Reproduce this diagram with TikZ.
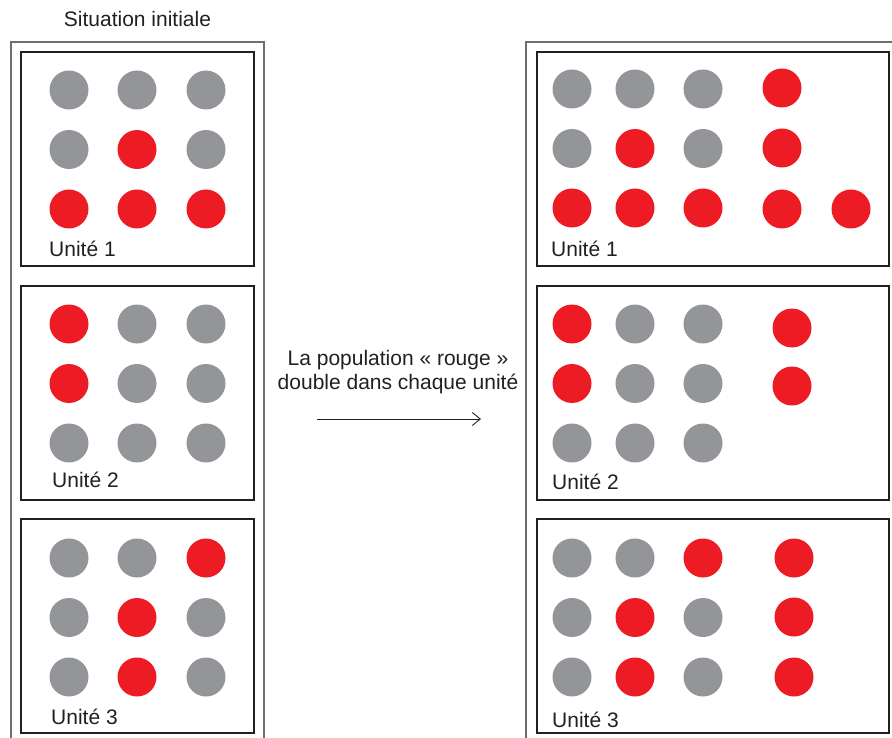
\documentclass[tikz,border=0pt]{standalone}
\usepackage{fontspec}
\setmainfont{Liberation Sans}
\usetikzlibrary{arrows.meta}
\definecolor{pointgris}{HTML}{939598}
\definecolor{pointrouge}{HTML}{ED1C24}
\definecolor{cadregris}{HTML}{6D6E71}
\definecolor{encre}{HTML}{231F20}

\begin{document}
\begin{tikzpicture}[
  x=1pt,
  y=-1pt,
  cadre/.style={
    draw=cadregris,
    line width=1.3pt
  },
  unite/.style={
    draw=encre,
    line width=1.1pt
  },
  gris/.style={
    circle,
    fill=pointgris,
    minimum size=39pt,
    inner sep=0pt
  },
  rouge/.style={
    circle,
    fill=pointrouge,
    minimum size=39pt,
    inner sep=0pt
  },
  legende/.style={
    text=encre,
    font=\fontsize{21}{24}\selectfont,
    inner sep=0pt
  },
  >={Straight Barb[length=8pt,width=13pt]}
]

\useasboundingbox (0,0) rectangle (892,738);

% Cadres
\draw[cadre] (11,738) -- (11,42) -- (264,42) -- (264,738);
\draw[cadre] (892,42) -- (526,42) -- (526,738);

% Unites
\foreach \yh in {52,286,519} {
  \draw[unite] (21,\yh) rectangle (254,\yh+214);
  \draw[unite] (537,\yh) rectangle (889,\yh+214);
}

% Titre
\node[legende, anchor=base] (titre) at (137.5,27) {Situation initiale};

% Points, situation initiale
\foreach \u/\yu/\liste in {
  1/90/{gris,gris,gris,gris,rouge,gris,rouge,rouge,rouge},
  2/324/{rouge,gris,gris,rouge,gris,gris,gris,gris,gris},
  3/558/{gris,gris,rouge,gris,rouge,gris,gris,rouge,gris}} {
  \foreach \coul [count=\i from 0] in \liste {
    \pgfmathtruncatemacro\col{mod(\i,3)}
    \pgfmathtruncatemacro\lig{div(\i,3)}
    \pgfmathsetmacro\xx{{69,137,206}[\col]}
    \node[\coul] (g\u-\i) at (\xx,\yu+59.5*\lig) {};
  }
}

% Points, apres doublement
\foreach \u/\yu/\liste in {
  1/89/{gris,gris,gris,gris,rouge,gris,rouge,rouge,rouge},
  2/324/{rouge,gris,gris,rouge,gris,gris,gris,gris,gris},
  3/558/{gris,gris,rouge,gris,rouge,gris,gris,rouge,gris}} {
  \foreach \coul [count=\i from 0] in \liste {
    \pgfmathtruncatemacro\col{mod(\i,3)}
    \pgfmathtruncatemacro\lig{div(\i,3)}
    \pgfmathsetmacro\xx{{572,635,703}[\col]}
    \node[\coul] (d\u-\i) at (\xx,\yu+59.5*\lig) {};
  }
}

% Nouveaux points rouges
\foreach \n/\x/\y in {1-a/782/88, 1-b/782/148, 1-c/782/209, 1-d/851/209,
                      2-a/792/328, 2-b/792/386,
                      3-a/794/558, 3-b/794/617, 3-c/794/677} {
  \node[rouge] (n\n) at (\x,\y) {};
}

% Legendes
\foreach \u/\xg/\yg/\xd/\yd in {1/49/257/551/257, 2/52/487/552/489, 3/51/724/552/727} {
  \node[legende, anchor=base west] (lg\u) at (\xg,\yg) {Unité \u};
  \node[legende, anchor=base west] (ld\u) at (\xd,\yd) {Unité \u};
}

% Fleche
\node[legende, align=center, anchor=center] (texte) at (398,372)
  {La population « rouge »\\[0pt] double dans chaque unité};
\coordinate (debut) at (317,419);
\coordinate (fin) at (481,419);
\draw[->, draw=encre, line width=0.9pt] (debut) -- (fin);

\end{tikzpicture}
\end{document}
